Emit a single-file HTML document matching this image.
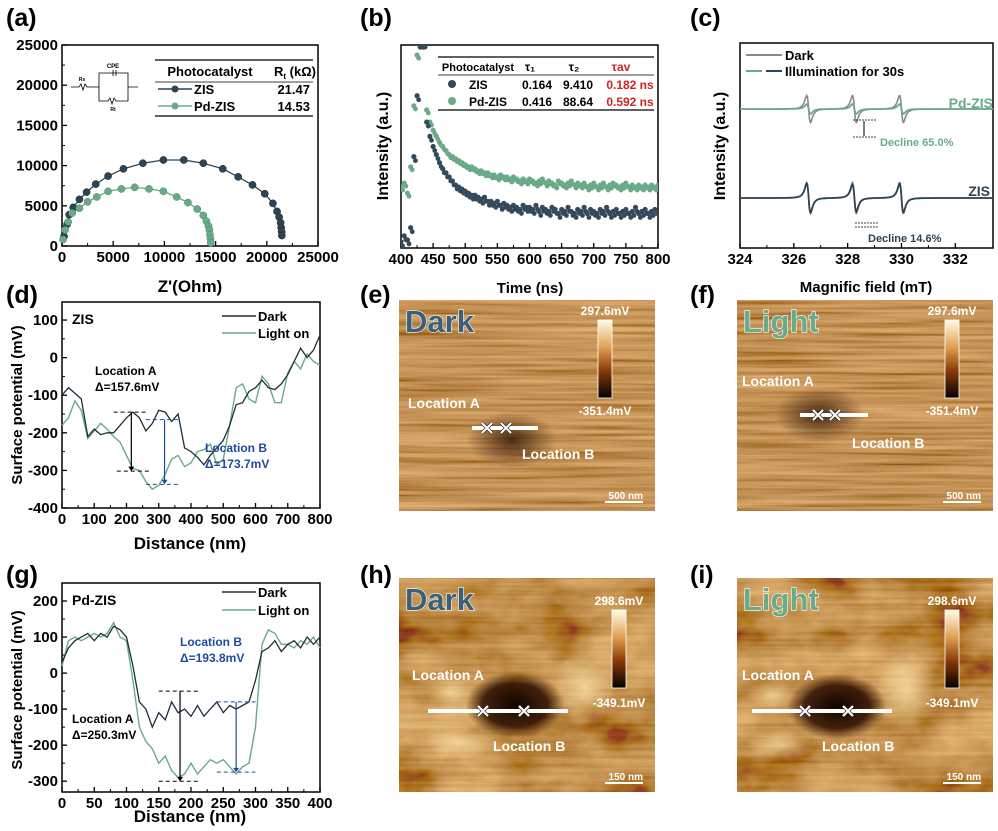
<!DOCTYPE html>
<html><head><meta charset="utf-8">
<style>
html,body{margin:0;padding:0;background:#fff;}
body{width:998px;height:831px;position:relative;overflow:hidden;font-family:"Liberation Sans",Arial,sans-serif;}
svg{position:absolute;left:0;top:0;}
text{font-family:"Liberation Sans",Arial,sans-serif;font-weight:bold;}
</style></head>
<body>
<svg id="fig" width="998" height="831" viewBox="0 0 998 831">
<defs>
<filter id="streak" x="0" y="0" width="100%" height="100%">
 <feTurbulence type="fractalNoise" baseFrequency="0.006 0.25" numOctaves="3" seed="3"/>
 <feColorMatrix type="matrix" values="0 0 0 1.3 0  0 0 0 1.1 -0.1  0 0 0 0.7 -0.15  0 0 0 0 1"/>
</filter>
<filter id="blotch" x="0" y="0" width="100%" height="100%">
 <feTurbulence type="fractalNoise" baseFrequency="0.012 0.02" numOctaves="4" seed="7"/>
 <feColorMatrix type="matrix" values="0 0 0 1.6 -0.15  0 0 0 1.3 -0.3  0 0 0 0.7 -0.25  0 0 0 0 1"/>
</filter>
<radialGradient id="darkspot"><stop offset="0" stop-color="#2a1000" stop-opacity="0.8"/><stop offset="1" stop-color="#2a1000" stop-opacity="0"/></radialGradient>
<radialGradient id="darkspot2"><stop offset="0" stop-color="#100400" stop-opacity="1"/><stop offset="0.65" stop-color="#2a0c00" stop-opacity="0.85"/><stop offset="1" stop-color="#3a1500" stop-opacity="0"/></radialGradient>
<radialGradient id="brightspot"><stop offset="0" stop-color="#ffe8b0" stop-opacity="0.7"/><stop offset="1" stop-color="#ffe8b0" stop-opacity="0"/></radialGradient>
<linearGradient id="cbar" x1="0" y1="0" x2="0" y2="1"><stop offset="0" stop-color="#fffbe8"/><stop offset="0.35" stop-color="#e0a050"/><stop offset="0.65" stop-color="#8a3a08"/><stop offset="1" stop-color="#000"/></linearGradient>
</defs>
</svg>
<script>
// ---------------- DATA ----------------
const aTicks=[0,5000,10000,15000,20000,25000];
const aZisX=[200,500,700,1100,1700,2400,3300,4500,6000,7900,9900,11900,13800,15700,17200,18600,19800,20600,21000,21200,21350,21400,21450,21470];
const aZisY=[1200,2700,3900,4800,5800,6700,7700,8700,9600,10300,10700,10700,10300,9600,8600,7600,6500,5300,4300,3600,2900,2300,1800,1300];
const aPdX=[100,300,600,1000,1700,2500,3400,4500,5800,7100,8500,9900,11200,12300,13200,13800,14100,14300,14400,14450,14500,14530];
const aPdY=[800,2000,3000,4100,4700,5500,6100,6800,7100,7300,7100,6800,6100,5400,4600,3800,3100,2500,2000,1400,900,400];
const bTicks=[400,450,500,550,600,650,700,750,800];
const bZis=[0.03,0.06,0.04,0.10,0.45,0.75,1.05,1.2,
0.62,0.55,0.50,0.46,0.42,0.39,0.37,0.35,
0.33,0.31,0.30,0.29,0.28,0.27,0.26,0.26,
0.25,0.24,0.25,0.23,0.23,0.22,0.23,0.21,
0.22,0.21,0.20,0.21,0.20,0.19,0.21,0.20,
0.20,0.19,0.21,0.18,0.20,0.19,0.18,0.20,0.19,0.17,0.19,0.18,0.20,0.18,0.17,0.19,0.18,0.20,0.17,0.19,0.18,0.17,0.19,0.18,0.20,0.17,0.18,0.19,0.17,0.18,0.19,0.17,0.18,0.20,0.17,0.18,0.19,0.17,0.18,0.19,0.18];
const bPd=[0.30,0.32,0.27,0.40,0.70,0.95,1.15,1.2,
0.68,0.62,0.58,0.55,0.52,0.50,0.48,0.46,
0.45,0.44,0.43,0.42,0.41,0.40,0.40,0.39,
0.38,0.38,0.37,0.37,0.36,0.36,0.35,0.36,
0.35,0.35,0.34,0.35,0.34,0.33,0.34,0.33,
0.34,0.33,0.32,0.33,0.34,0.32,0.33,0.32,0.31,0.33,0.32,0.31,0.32,0.33,0.31,0.32,0.31,0.32,0.30,0.31,0.32,0.30,0.31,0.32,0.30,0.31,0.32,0.31,0.30,0.31,0.32,0.30,0.31,0.30,0.31,0.30,0.31,0.30,0.31,0.30,0.31];
const cTicks=[324,326,328,330,332];
const cCenters=[326.55,328.25,330.0];
const cPdDark=[27,27,27], cPdLight=[10,10,10];
const cZisDark=[31,31,31], cZisLight=[29,27,29];
const dTicksX=[0,100,200,300,400,500,600,700,800];
const dTicksY=[100,0,-100,-200,-300,-400];
const dDark=[-100,-80,-95,-110,-210,-190,-205,-200,-200,-180,-160,-145,-160,-195,-175,-140,-145,-170,-150,-240,-250,-265,-285,-260,-240,-220,-180,-125,-120,-90,-80,-60,-80,-85,-70,-45,-10,25,0,20,60];
const dLight=[-180,-160,-115,-140,-215,-195,-175,-190,-210,-225,-260,-295,-300,-330,-350,-340,-310,-270,-260,-290,-280,-250,-245,-230,-285,-270,-180,-80,-70,-110,-120,-50,-70,-120,-120,-40,-10,-30,10,-10,-20];
const gTicksX=[0,50,100,150,200,250,300,350,400];
const gTicksY=[200,100,0,-100,-200,-300];
const gDark=[30,70,90,100,110,90,110,100,130,120,100,20,-80,-100,-150,-110,-130,-80,-110,-100,-120,-90,-120,-100,-80,-110,-90,-100,-90,-80,-20,60,70,90,60,80,90,70,100,80,100];
const gLight=[20,90,100,90,100,110,100,110,140,100,90,-20,-150,-190,-210,-250,-230,-270,-290,-280,-250,-280,-260,-240,-250,-240,-260,-280,-260,-250,-150,80,120,110,80,80,70,90,80,100,70];

// ---------------- HELPERS ----------------
const NS='http://www.w3.org/2000/svg';
const svg=document.getElementById('fig');
function mk(tag,attrs,parent){const e=document.createElementNS(NS,tag);for(const k in attrs)e.setAttribute(k,attrs[k]);(parent||svg).appendChild(e);return e;}
function txt(x,y,s,size,anchor,fill,parent){const t=mk('text',{x:x,y:y,'font-size':size,'text-anchor':anchor||'start',fill:fill||'#000'},parent);t.textContent=s;return t;}
function lin(d0,d1,r0,r1){return v=>r0+(v-d0)/(d1-d0)*(r1-r0);}
function axes(g,x0,y0,x1,y1,xs,ys,xt,yt,fs){
 const f=mk('rect',{x:x0,y:y0,width:x1-x0,height:y1-y0,fill:'none',stroke:'#000','stroke-width':1.5},g);
 
 
 xt.forEach((v,i)=>{const X=xs(v);mk('line',{x1:X,y1:y1,x2:X,y2:y1-5,stroke:'#000','stroke-width':1.3},g);
  if(i<xt.length-1){const m=xs((v+xt[i+1])/2);mk('line',{x1:m,y1:y1,x2:m,y2:y1-3,stroke:'#000','stroke-width':1},g);}
  const t=txt(X,y1+16,String(v),fs||15,'middle','#000',g);
  
  });
 if(yt)yt.forEach((v,i)=>{const Y=ys(v);mk('line',{x1:x0,y1:Y,x2:x0+5,y2:Y,stroke:'#000','stroke-width':1.3},g);
  if(i<yt.length-1){const m=ys((v+yt[i+1])/2);mk('line',{x1:x0,y1:m,x2:x0+3,y2:m,stroke:'#000','stroke-width':1},g);}
  const t=txt(x0-4,Y+5,String(v),15,'end','#000',g);
  
  });
}
function group(name){const g=mk('g',{});return g;}
function poly(g,xs,ys,xa,ya,color,w){const pts=xa.map((v,i)=>xs(v).toFixed(1)+','+ys(ya[i]).toFixed(1)).join(' ');return mk('polyline',{points:pts,fill:'none',stroke:color,'stroke-width':w||1.4},g);}
function label(s,x,y){const t=txt(x,y,s,25,'start','#000');}

const DK='#2f4452', GR='#6aaa88';

// ---------------- PANEL A ----------------
(function(){
 const g=group('panel-a-nyquist');
 const xs=lin(0,25000,62,318), ys=lin(0,25000,246,45);
 axes(g,62,45,318,246,xs,ys,aTicks,aTicks);
 const l1=poly(g,xs,ys,aZisX,aZisY,DK,1.3);
 const l2=poly(g,xs,ys,aPdX,aPdY,GR,1.3);
 aZisX.forEach((v,i)=>{const c=mk('circle',{cx:xs(v),cy:ys(aZisY[i]),r:3.6,fill:DK,stroke:'#1a2a33','stroke-width':0.5},g);
  });
 aPdX.forEach((v,i)=>{const c=mk('circle',{cx:xs(v),cy:ys(aPdY[i]),r:3.6,fill:GR,stroke:'#4a8a68','stroke-width':0.5},g);
  });
 const t=txt(190,292,"Z'(Ohm)",17,'middle','#000',g);
 const cg=mk('g',{stroke:'#000','stroke-width':0.8,fill:'none'},g);
 mk('path',{d:'M71 87 H79 l2 -3 l2 6 l2 -6 l2 3 H99 V73 H128 V87 H138 M99 87 V101 H108 l2 -3 l2 6 l2 -6 l2 3 H128 V87 M110 73 h5 M113 70 v6 M116 70 v6'},cg);
 txt(113,68,'CPE',6,'middle','#000',g).setAttribute('font-weight','normal');
 txt(82,81,'Rs',5,'middle','#000',g);
 txt(113,111,'Rt',5,'middle','#000',g);
 mk('line',{x1:155,y1:60,x2:313,y2:60,stroke:'#000','stroke-width':1.2},g);
 mk('line',{x1:155,y1:82,x2:313,y2:82,stroke:'#000','stroke-width':0.8},g);
 mk('line',{x1:155,y1:116,x2:313,y2:116,stroke:'#000','stroke-width':1.2},g);
 txt(210,76,'Photocatalyst',13,'middle','#000',g);
 const rt=txt(274,76,'R',13,'start','#000',g);
 const ts=mk('tspan',{'font-size':8,dy:3},rt);ts.textContent='t';const ts2=mk('tspan',{dy:-3},rt);ts2.textContent=' (kΩ)';
 mk('line',{x1:158,y1:89,x2:192,y2:89,stroke:DK,'stroke-width':1.5},g);mk('circle',{cx:175,cy:89,r:3.5,fill:DK},g);
 mk('line',{x1:158,y1:106,x2:192,y2:106,stroke:GR,'stroke-width':1.5},g);mk('circle',{cx:175,cy:106,r:3.5,fill:GR},g);
 txt(194,94,'ZIS',13,'start','#000',g);txt(194,111,'Pd-ZIS',13,'start','#000',g);
 txt(310,94,'21.47',13,'end','#000',g);txt(310,111,'14.53',13,'end','#000',g);
})();
label('(a)',6,26);

// ---------------- PANEL B ----------------
(function(){
 const g=group('panel-b-decay');
 const xs=lin(400,800,401,658), ys=lin(0,1,248,45);
 axes(g,401,45,658,248,xs,ys,bTicks,null);
 const cp=mk('clipPath',{id:'bclip'},g);mk('rect',{x:401,y:45,width:257,height:203},cp);
 const cl=mk('g',{'clip-path':'url(#bclip)'},g);
 bPd.forEach((v,i)=>{const X=xs(400+5*i),Y=Math.max(47,ys(v));const c=mk('circle',{cx:X,cy:Y,r:2.6,fill:GR},cl);
  
  const c2=mk('circle',{cx:X+1.6,cy:Math.max(47,ys(v)+3),r:2.4,fill:GR},cl);});
 bZis.forEach((v,i)=>{const X=xs(400+5*i),Y=Math.max(47,ys(v));const c=mk('circle',{cx:X,cy:Y,r:2.6,fill:'#34495a'},cl);
  
  const c2=mk('circle',{cx:X+1.6,cy:Math.max(47,ys(v)+4),r:2.4,fill:'#34495a'},cl);});
 const t=txt(530,293,'Time (ns)',15,'middle','#000',g);
 const yt=txt(0,0,'Intensity (a.u.)',16,'middle','#000',g);yt.setAttribute('transform','translate(388,146) rotate(-90)');
 mk('rect',{x:437,y:56,width:218,height:55,fill:'#fff'},g);
 mk('line',{x1:438,y1:57,x2:654,y2:57,stroke:'#000','stroke-width':1.2},g);
 mk('line',{x1:438,y1:75,x2:654,y2:75,stroke:'#000','stroke-width':0.8},g);
 mk('line',{x1:438,y1:110,x2:654,y2:110,stroke:'#000','stroke-width':1.2},g);
 txt(478,71,'Photocatalyst',11,'middle','#000',g);
 txt(530,71,'τ₁',12,'middle','#000',g);txt(574,71,'τ₂',12,'middle','#000',g);txt(621,71,'τav',12,'middle','#d42020',g);
 mk('circle',{cx:452,cy:84,r:4,fill:'#34495a'},g);mk('circle',{cx:452,cy:101,r:4,fill:GR},g);
 txt(469,89,'ZIS',12,'start','#000',g);txt(469,106,'Pd-ZIS',12,'start','#000',g);
 txt(537,89,'0.164',12,'middle','#000',g);txt(578,89,'9.410',12,'middle','#000',g);txt(630,89,'0.182 ns',12,'middle','#d42020',g);
 txt(537,106,'0.416',12,'middle','#000',g);txt(578,106,'88.64',12,'middle','#000',g);txt(630,106,'0.592 ns',12,'middle','#d42020',g);
})();
label('(b)',360,26);

// ---------------- PANEL C ----------------
(function(){
 const g=group('panel-c-epr');
 const xs=lin(324,333.4,740,993);
 axes(g,740,43,993,248,xs,null,cTicks,null);
 function trace(base,amps,color,w,name){
  const xa=[],ya=[];
  for(let p=324;p<=333.4;p+=0.02){let y=0;cCenters.forEach((c,k)=>{const u=(p-c)/0.12;y+=amps[k]*(-2*u)/Math.pow(1+u*u,2)*0.77;});xa.push(p);ya.push(base-y);}
  const l=poly(g,xs,v=>v,xa,ya,color,w);
 }
 trace(109,cPdDark,'#8a8a8a',1.6,'pd-zis-dark-trace');
 trace(109,cPdLight,GR,1.8,'pd-zis-light-trace');
 trace(198,cZisDark,'#8a8a8a',1.6,'zis-dark-trace');
 trace(198,cZisLight,DK,1.8,'zis-light-trace');
 mk('line',{x1:746,y1:55,x2:782,y2:55,stroke:'#8a8a8a','stroke-width':2},g);
 mk('line',{x1:746,y1:71,x2:762,y2:71,stroke:GR,'stroke-width':2},g);
 mk('line',{x1:766,y1:71,x2:782,y2:71,stroke:DK,'stroke-width':2},g);
 txt(785,60,'Dark',13,'start','#000',g);txt(785,76,'Illumination for 30s',13,'start','#000',g);
 txt(993,108,'Pd-ZIS',14,'end',GR,g);txt(990,196,'ZIS',14,'end',DK,g);
 txt(880,146,'Decline 65.0%',11,'start',GR,g);txt(868,242,'Decline 14.6%',11,'start',DK,g);
 const d=mk('g',{stroke:'#000','stroke-width':0.8,'stroke-dasharray':'2,1'},g);
 mk('line',{x1:853,y1:120,x2:876,y2:120},d);mk('line',{x1:853,y1:137,x2:876,y2:137},d);
 mk('line',{x1:855,y1:223,x2:878,y2:223},d);mk('line',{x1:855,y1:227,x2:878,y2:227},d);
 mk('line',{x1:864,y1:121,x2:864,y2:136,stroke:'#000','stroke-width':1},g);
 const t=txt(866,292,'Magnific field (mT)',15,'middle','#000',g);
 const yt=txt(0,0,'Intensity (a.u.)',16,'middle','#000',g);yt.setAttribute('transform','translate(725,146) rotate(-90)');
})();
label('(c)',690,26);

// ---------------- PANELS D / G ----------------
function kpfm(name,y0,y1,ydom,xdom,xt,yt,dark,light,step,title,ytitleY,xtitleY){
 const g=group(name);
 const xs=lin(0,xdom,62,320), ys=lin(ydom[0],ydom[1],y1,y0);
 axes(g,62,y0,320,y1,xs,ys,xt,yt);
 const xa=dark.map((_,i)=>i*step);
 const l2=poly(g,xs,ys,xa,light,GR,1.4);
 const l1=poly(g,xs,ys,xa,dark,'#1f2e3c',1.3);
 txt(72,y0+22,title,14,'start','#000',g);
 const t=txt(190,xtitleY,'Distance (nm)',17,'middle','#000',g);
 const yt2=txt(0,0,'Surface potential (mV)',15,'middle','#000',g);yt2.setAttribute('transform','translate(22,'+ytitleY+') rotate(-90)');
 return {g,xs,ys};
}
(function(){
 const {g,xs,ys}=kpfm('panel-d-zis-potential',302,508,[-400,148],800,dTicksX,dTicksY,dDark,dLight,20,'ZIS',405,549);
 mk('line',{x1:222,y1:316,x2:256,y2:316,stroke:'#1f2e3c','stroke-width':1.5},g);txt(258,321,'Dark',13,'start','#000',g);
 mk('line',{x1:222,y1:333,x2:256,y2:333,stroke:GR,'stroke-width':1.5},g);txt(258,338,'Light on',13,'start','#000',g);
 txt(95,375,'Location A',12,'start','#000',g);txt(95,391,'Δ=157.6mV',12,'start','#000',g);
 txt(205,452,'Location B',12,'start','#1f4aa0',g);txt(205,468,'Δ=173.7mV',12,'start','#1f4aa0',g);
 const dd={stroke:'#000','stroke-width':1,'stroke-dasharray':'4,3'};
 mk('line',Object.assign({x1:xs(160),y1:ys(-145),x2:xs(260),y2:ys(-145)},dd),g);
 mk('line',Object.assign({x1:xs(170),y1:ys(-302),x2:xs(270),y2:ys(-302)},dd),g);
 mk('line',Object.assign({x1:xs(260),y1:ys(-165),x2:xs(360),y2:ys(-165)},{stroke:'#1f4aa0','stroke-width':1,'stroke-dasharray':'4,3'}),g);
 mk('line',Object.assign({x1:xs(260),y1:ys(-337),x2:xs(360),y2:ys(-337)},{stroke:'#1f4aa0','stroke-width':1,'stroke-dasharray':'4,3'}),g);
 mk('line',{x1:xs(215),y1:ys(-145),x2:xs(215),y2:ys(-300),stroke:'#000','stroke-width':1.2},g);
 mk('path',{d:`M${xs(215)-3} ${ys(-290)} L${xs(215)} ${ys(-302)} L${xs(215)+3} ${ys(-290)}Z`,fill:'#000'},g);
 mk('line',{x1:xs(318),y1:ys(-165),x2:xs(318),y2:ys(-335),stroke:'#1f4aa0','stroke-width':1.2},g);
 mk('path',{d:`M${xs(318)-3} ${ys(-325)} L${xs(318)} ${ys(-337)} L${xs(318)+3} ${ys(-325)}Z`,fill:'#1f4aa0'},g);
})();
label('(d)',6,303);
(function(){
 const {g,xs,ys}=kpfm('panel-g-pdzis-potential',583,792,[-330,250],400,gTicksX,gTicksY,gDark,gLight,10,'Pd-ZIS',690,822);
 mk('line',{x1:222,y1:592,x2:256,y2:592,stroke:'#1f2e3c','stroke-width':1.5},g);txt(258,597,'Dark',13,'start','#000',g);
 mk('line',{x1:222,y1:610,x2:256,y2:610,stroke:GR,'stroke-width':1.5},g);txt(258,615,'Light on',13,'start','#000',g);
 txt(180,646,'Location B',12,'start','#1f4aa0',g);txt(180,662,'Δ=193.8mV',12,'start','#1f4aa0',g);
 txt(72,723,'Location A',12,'start','#000',g);txt(72,739,'Δ=250.3mV',12,'start','#000',g);
 const dd={stroke:'#000','stroke-width':1,'stroke-dasharray':'4,3'};
 const db={stroke:'#1f4aa0','stroke-width':1,'stroke-dasharray':'4,3'};
 mk('line',Object.assign({x1:xs(150),y1:ys(-50),x2:xs(215),y2:ys(-50)},dd),g);
 mk('line',Object.assign({x1:xs(150),y1:ys(-300),x2:xs(215),y2:ys(-300)},dd),g);
 mk('line',Object.assign({x1:xs(240),y1:ys(-80),x2:xs(300),y2:ys(-80)},db),g);
 mk('line',Object.assign({x1:xs(240),y1:ys(-275),x2:xs(300),y2:ys(-275)},db),g);
 mk('line',{x1:xs(183),y1:ys(-50),x2:xs(183),y2:ys(-298),stroke:'#000','stroke-width':1.2},g);
 mk('path',{d:`M${xs(183)-3} ${ys(-288)} L${xs(183)} ${ys(-300)} L${xs(183)+3} ${ys(-288)}Z`,fill:'#000'},g);
 mk('line',{x1:xs(270),y1:ys(-80),x2:xs(270),y2:ys(-273),stroke:'#1f4aa0','stroke-width':1.2},g);
 mk('path',{d:`M${xs(270)-3} ${ys(-263)} L${xs(270)} ${ys(-275)} L${xs(270)+3} ${ys(-263)}Z`,fill:'#1f4aa0'},g);
})();
label('(g)',6,583);

// ---------------- AFM IMAGES ----------------
function afm(name,x,y,w,h,type,word,wordColor,top,bot,cbx,locA,locB,lineX0,lineX1,lineY,xa,xb,scale,spot){
 const g=group(name);
 const cid='c'+name;
 const cp=mk('clipPath',{id:cid},g);mk('rect',{x:x,y:y,width:w,height:h},cp);
 const ig=mk('g',{'clip-path':'url(#'+cid+')'},g);
 mk('rect',{x:x,y:y,width:w,height:h,fill:type==='s'?'#b87232':'#a0601f'},ig);
 mk('rect',{x:x,y:y,width:w,height:h,filter:type==='s'?'url(#streak)':'url(#blotch)',opacity:type==='s'?0.5:0.65},ig);
 if(type!=='s')mk('rect',{x:x,y:y,width:w,height:h,filter:'url(#streak)',opacity:0.2},ig);
 if(type==='s'){mk('ellipse',{cx:spot[0],cy:spot[1],rx:45,ry:28,fill:'url(#darkspot)'},ig);}
 else{mk('ellipse',{cx:spot[0]+25,cy:spot[1]-3,rx:50,ry:33,fill:'url(#darkspot2)'},ig);
  mk('ellipse',{cx:spot[0]-30,cy:spot[1]+35,rx:35,ry:15,fill:'url(#brightspot)'},ig);
  mk('ellipse',{cx:spot[0]-40,cy:spot[1]-15,rx:25,ry:15,fill:'url(#brightspot)'},ig);
  mk('ellipse',{cx:spot[0]+95,cy:spot[1]-20,rx:30,ry:40,fill:'url(#brightspot)'},ig);}
 const wt=txt(x+6,y+32,word,31,'start',wordColor,g);wt.setAttribute('stroke','#fff');wt.setAttribute('stroke-width','1.2');wt.setAttribute('paint-order','stroke');
 const cb=mk('rect',{x:cbx,y:y+(type==='s'?20:32),width:14,height:78,fill:'url(#cbar)',stroke:'#fff','stroke-width':0.8},g);
 
 txt(cbx+7,y+(type==='s'?15:27),top,12,'middle','#fff',g);
 txt(cbx+7,y+(type==='s'?115:129),bot,12,'middle','#fff',g);
 txt(locA[0],locA[1],'Location A',14,'start','#fff',g);
 txt(locB[0],locB[1],'Location B',14,'start','#fff',g);
 mk('line',{x1:lineX0,y1:lineY,x2:lineX1,y2:lineY,stroke:'#fff','stroke-width':4},g);
 [xa,xb].forEach(X=>{mk('path',{d:`M${X-5} ${lineY-5} L${X+5} ${lineY+5} M${X-5} ${lineY+5} L${X+5} ${lineY-5}`,stroke:'#333','stroke-width':3.5},g);
  mk('path',{d:`M${X-5} ${lineY-5} L${X+5} ${lineY+5} M${X-5} ${lineY+5} L${X+5} ${lineY-5}`,stroke:'#fff','stroke-width':2},g);});
 txt(x+w-12,y+h-12,scale,10,'end','#fff',g);
 mk('line',{x1:x+w-50,y1:y+h-9,x2:x+w-12,y2:y+h-9,stroke:'#fff','stroke-width':2},g);
}
afm('panel-e-zis-dark',399,300,256,211,'s','Dark','#3a6078','297.6mV','-351.4mV',598,[408,408],[522,459],472,538,428,487,506,'500 nm',[512,440]);
afm('panel-f-zis-light',737,300,256,211,'s','Light','#6aaa88','297.6mV','-351.4mV',945,[742,386],[852,448],800,868,415,818,835,'500 nm',[820,415]);
afm('panel-h-pdzis-dark',399,578,256,214,'b','Dark','#3a6078','298.6mV','-349.1mV',612,[412,680],[493,751],428,568,711,483,524,'150 nm',[490,708]);
afm('panel-i-pdzis-light',737,578,256,214,'b','Light','#6aaa88','298.6mV','-349.1mV',945,[742,680],[822,751],752,892,711,805,848,'150 nm',[812,710]);
label('(e)',360,303);label('(f)',690,303);label('(h)',360,583);label('(i)',690,583);
</script>
</body></html>
